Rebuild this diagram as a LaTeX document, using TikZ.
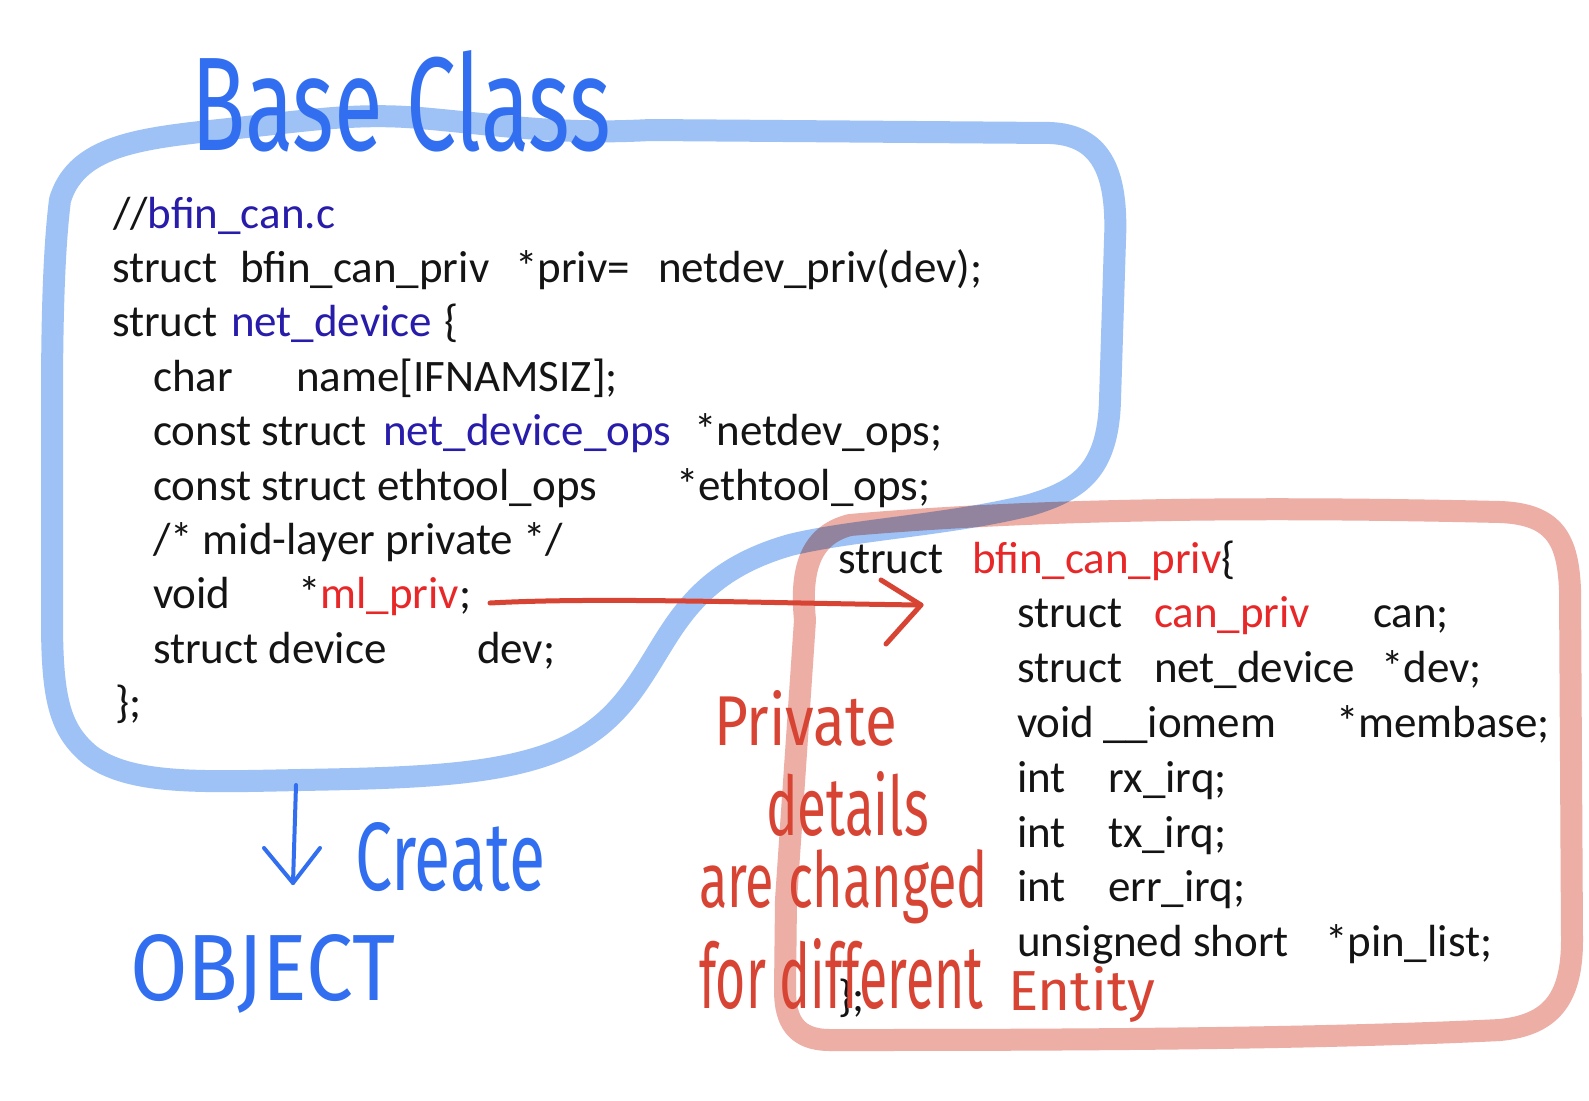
\documentclass[tikz,border=0pt]{standalone}
\usepackage{fontspec}
\setmainfont{Carlito}
\newfontfamily\hwfont{Fira Sans}
\definecolor{bandblue}{RGB}{158,194,246}
\definecolor{bandred}{RGB}{236,174,165}
\definecolor{hwblue}{RGB}{50,110,240}
\definecolor{hwred}{RGB}{216,68,52}
\definecolor{codeblue}{RGB}{40,28,170}
\definecolor{codered}{RGB}{232,40,40}
\begin{document}
\begin{tikzpicture}[x=1pt,y=-1pt,
  code/.style={anchor=base west,inner sep=0pt,outer sep=0pt,font=\fontsize{45}{54}\selectfont,text=black!92},
  hw/.style={anchor=base west,inner sep=0pt,outer sep=0pt,font=\hwfont},
  band/.style={line width=22pt,line cap=round,line join=round},
  pen/.style={line cap=round,line join=round}]
\useasboundingbox (0,0) rectangle (1589,1100);
\fill[white] (0,0) rectangle (1589,1100);
% blue highlighter blob
\draw[band,bandblue] (60,200) .. controls (75,150) and (130,140) .. (200,132)
  .. controls (300,122) and (350,112) .. (420,118)
  .. controls (500,125) and (560,135) .. (650,130)
  -- (1050,133)
  .. controls (1100,135) and (1118,170) .. (1115,240)
  -- (1110,400)
  .. controls (1108,470) and (1080,490) .. (1030,505)
  .. controls (950,525) and (850,530) .. (790,545)
  .. controls (720,565) and (690,600) .. (665,640)
  .. controls (640,680) and (620,720) .. (570,745)
  .. controls (510,775) and (420,778) .. (300,780)
  .. controls (200,782) and (130,785) .. (90,755)
  .. controls (60,730) and (52,700) .. (52,620)
  -- (52,400)
  .. controls (52,300) and (55,240) .. (60,200) -- cycle;
% red highlighter box
\begin{scope}[blend mode=multiply]
\draw[band,bandred] (805,620) .. controls (800,570) and (810,535) .. (850,525)
  .. controls (1000,512) and (1200,505) .. (1500,512)
  .. controls (1555,514) and (1568,540) .. (1570,590)
  -- (1572,940)
  .. controls (1572,1000) and (1550,1025) .. (1500,1030)
  .. controls (1300,1040) and (1000,1040) .. (830,1040)
  .. controls (795,1040) and (785,1020) .. (785,990)
  -- (786,900) -- cycle;
\end{scope}
% left code
\node[code] (l1a) at (113,228) {//};
\node[code,text=codeblue] (l1b) at (l1a.base east) {bfin\_can.c};
\node[code] (l2a) at (112,282.4) {struct};
\node[code] (l2b) at (240,282.4) {bfin\_can\_priv};
\node[code] (l2c) at (515,282.4) {*priv=};
\node[code] (l2d) at (658,282.4) {netdev\_priv(dev);};
\node[code] (l3a) at (112,336.8) {struct};
\node[code,text=codeblue] (l3b) at (231,336.8) {net\_device};
\node[code] (l3c) at (444,336.8) {\{};
\node[code] (l4a) at (153,391.2) {char};
\node[code] (l4b) at (296,391.2) {name[IFNAMSIZ];};
\node[code] (l5a) at (153,445.6) {const struct};
\node[code,text=codeblue] (l5b) at (383,445.6) {net\_device\_ops};
\node[code] (l5c) at (694,445.6) {*netdev\_ops;};
\node[code] (l6a) at (153,500) {const struct ethtool\_ops};
\node[code] (l6b) at (676,500) {*ethtool\_ops;};
\node[code] (l7a) at (153,554.4) {/* mid-layer private */};
\node[code] (l8a) at (153,608.8) {void};
\node[code] (l8b) at (298,608.8) {*};
\node[code,text=codered] (l8c) at (l8b.base east) {ml\_priv};
\node[code] (l8d) at (l8c.base east) {;};
\node[code] (l9a) at (153,663.2) {struct device};
\node[code] (l9b) at (477,663.2) {dev;};
\node[code] (l10) at (115,717.6) {\};};
% right code
\node[code] (r1a) at (838,573) {struct};
\node[code,text=codered] (r1b) at (972,573) {bfin\_can\_priv};
\node[code] (r1c) at (r1b.base east) {\{};
\node[code] (r2a) at (1017,627.8) {struct};
\node[code,text=codered] (r2b) at (1154,627.8) {can\_priv};
\node[code] (r2c) at (1373,627.8) {can;};
\node[code] (r3a) at (1017,682.6) {struct};
\node[code] (r3b) at (1154,682.6) {net\_device};
\node[code] (r3c) at (1381,682.6) {*dev;};
\node[code] (r4a) at (1017,737.4) {void};
\node[code] (r4b) at (1103,737.4) {\_\_iomem};
\node[code] (r4c) at (1336,737.4) {*membase;};
\node[code] (r5a) at (1017,792.2) {int};
\node[code] (r5b) at (1108,792.2) {rx\_irq;};
\node[code] (r6a) at (1017,847) {int};
\node[code] (r6b) at (1108,847) {tx\_irq;};
\node[code] (r7a) at (1017,901.8) {int};
\node[code] (r7b) at (1108,901.8) {err\_irq;};
\node[code] (r8a) at (1017,956.6) {unsigned short};
\node[code] (r8b) at (1325,956.6) {*pin\_list;};
\node[code] (r9) at (838,1011.4) {\};};
% red pointer arrow
\coordinate (arrS) at (490,603);
\coordinate (arrE) at (921,605);
\draw[pen,hwred,line width=5pt] (arrS) .. controls (600,597) and (760,603) .. (arrE);
\draw[pen,hwred,line width=5pt] (881,580) -- (arrE) -- (886,644);
% blue create arrow
\coordinate (cS) at (296,785);
\coordinate (cE) at (293,883);
\draw[pen,hwblue,line width=4pt] (cS) -- (cE);
\draw[pen,hwblue,line width=4pt] (264,848) -- (cE) -- (320,848);
% handwriting
\node[hw,text=hwblue] (base) at (191,150) {\resizebox{420pt}{100pt}{Base Class}};
\node[hw,text=hwblue] (create) at (355,890) {\resizebox{190pt}{68pt}{Create}};
\node[hw,text=hwblue] (object) at (130,1000) {\resizebox{265pt}{66pt}{OBJECT}};
\node[hw,text=hwred] (priv) at (714,745) {\resizebox{183pt}{55pt}{Private}};
\node[hw,text=hwred] (det) at (766,835) {\resizebox{163pt}{64pt}{details}};
\node[hw,text=hwred] (chg) at (699,907) {\resizebox{289pt}{58pt}{are changed}};
\node[hw,text=hwred] (fordiff) at (699,1008) {\resizebox{284pt}{70pt}{for different}};
\node[hw,text=hwred] (ent) at (1008,1010) {\resizebox{147pt}{44pt}{Entity}};
\end{tikzpicture}
\end{document}
